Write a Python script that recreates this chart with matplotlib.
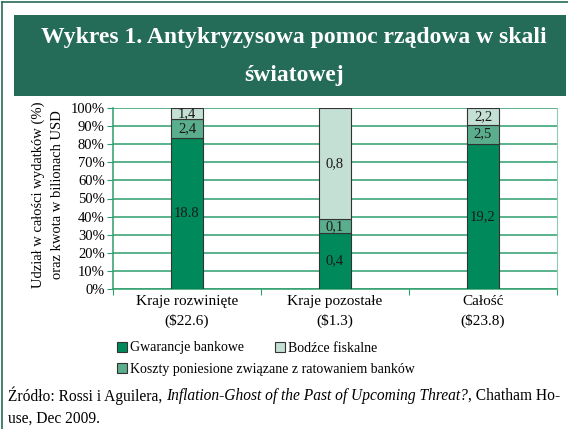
import numpy as np
import matplotlib
matplotlib.use('Agg')
import matplotlib.pyplot as plt
from matplotlib.patches import Rectangle, Patch
from matplotlib.lines import Line2D

plt.rcParams['font.family'] = ['Liberation Serif', 'DejaVu Serif']

categories = ['Kraje rozwinięte\n($22.6)', 'Kraje pozostałe\n($1.3)', 'Całość\n($23.8)']
guarantees = np.array([18.8, 0.4, 19.2])
rescue_costs = np.array([2.4, 0.1, 2.5])
fiscal = np.array([1.4, 0.8, 2.2])
guarantee_labels = ['18.8', '0,4', '19,2']
rescue_labels = ['2,4', '0,1', '2,5']
fiscal_labels = ['1,4', '0,8', '2,2']

c_dark = '#008a5b'
c_mid = '#5aae8e'
c_light = '#c4dfd3'
c_grid = '#2e9e6c'
c_title = '#246b58'

total = guarantees + rescue_costs + fiscal
p1 = guarantees / total * 100
p2 = rescue_costs / total * 100
p3 = fiscal / total * 100

fig = plt.figure(figsize=(5.68, 4.29), dpi=100)
fig.patch.set_facecolor('white')

# outer frame and title box
fig.add_artist(Line2D([2/568, 2/568], [0, 1 - 2/429], color=c_title, lw=1.2))
fig.add_artist(Line2D([2/568, 1], [1 - 2/429, 1 - 2/429], color=c_title, lw=1.2))
fig.add_artist(Rectangle((14/568, 1 - 96/429), 552/568, 81/429, transform=fig.transFigure,
                         facecolor=c_title, edgecolor='none'))
fig.text(0.517, 1 - 38/429, 'Wykres 1. Antykryzysowa pomoc rządowa w skali', color='white',
         fontsize=17, fontweight='bold', ha='center', va='center')
fig.text(0.517, 1 - 75/429, 'światowej', color='white',
         fontsize=17, fontweight='bold', ha='center', va='center')

ax = fig.add_axes([113/568, 1 - 289/429, 444/568, 181/429])
x = np.arange(3)
w = 0.22
ax.bar(x, p1, width=w, color=c_dark, edgecolor='#333333', lw=0.8, zorder=3)
ax.bar(x, p2, width=w, bottom=p1, color=c_mid, edgecolor='#333333', lw=0.8, zorder=3)
ax.bar(x, p3, width=w, bottom=p1 + p2, color=c_light, edgecolor='#333333', lw=0.8, zorder=3)

for i in range(3):
    ax.text(x[i], p1[i] / 2, guarantee_labels[i], ha='center', va='center', fontsize=10.5, color='#1a1a1a', zorder=4)
    ax.text(x[i], p1[i] + p2[i] / 2, rescue_labels[i], ha='center', va='center', fontsize=10.5, color='#1a1a1a', zorder=4)
    ax.text(x[i], p1[i] + p2[i] + p3[i] / 2, fiscal_labels[i], ha='center', va='center', fontsize=10.5, color='#1a1a1a', zorder=4)

ax.set_xlim(-0.5, 2.5)
ax.set_ylim(0, 100)
ax.set_yticks(np.arange(0, 101, 10))
ax.set_yticklabels([f'{v}%' for v in range(0, 101, 10)], fontsize=10.5)
ax.yaxis.grid(True, color=c_grid, lw=1.1, zorder=0)
ax.set_xticks([-0.5, 0.5, 1.5, 2.5], minor=False)
ax.set_xticklabels([])
ax.set_xticks(x, minor=True)
ax.set_xticklabels(categories, minor=True, fontsize=11, linespacing=1.6)
ax.tick_params(axis='x', which='minor', length=0, pad=4)
ax.tick_params(axis='x', which='major', length=4, color=c_grid, direction='out')
ax.tick_params(axis='y', length=4, color=c_grid, pad=2)
for s in ['left', 'bottom']:
    ax.spines[s].set_color(c_grid)
    ax.spines[s].set_linewidth(1.1)
ax.spines['right'].set_color('#8fcdb0')
ax.spines['top'].set_visible(False)

fig.text(38/568, 1 - 195/429, 'Udział w całości wydatków (%)', rotation=90, fontsize=10.5,
         ha='center', va='center')
fig.text(58/568, 1 - 195/429, 'oraz kwota w bilionach USD', rotation=90, fontsize=10.5,
         ha='center', va='center')

legend_items = [('Gwarancje bankowe', c_dark, 117, 348),
                ('Bodźce fiskalne', c_light, 275, 348),
                ('Koszty poniesione związane z ratowaniem banków', c_mid, 117, 369)]
for label, col, lx, ly in legend_items:
    h = Patch(facecolor=col, edgecolor='#333333', lw=0.8, label=label)
    leg = fig.legend(handles=[h], loc='center left', bbox_to_anchor=(lx / 568, 1 - ly / 429),
                     frameon=False, fontsize=10, handlelength=0.7, handleheight=0.7,
                     handletextpad=0.2, borderpad=0, borderaxespad=0)

# source note with italic title
fig.canvas.draw()
renderer = fig.canvas.get_renderer()
parts = [('Źródło: Rossi i Aguilera, ', 'normal'),
         ('Inflation-Ghost of the Past of Upcoming Threat?', 'italic'),
         (', Chatham Ho-', 'normal')]
xpos = 8
for txt, style in parts:
    t = fig.text(xpos / 568, 1 - 396/429, txt, fontsize=11.2, style=style, ha='left', va='center')
    bb = t.get_window_extent(renderer)
    xpos += bb.width
fig.text(8/568, 1 - 419/429, 'use, Dec 2009.', fontsize=11.2, ha='left', va='center')

fig.savefig('out.png', dpi=100)
